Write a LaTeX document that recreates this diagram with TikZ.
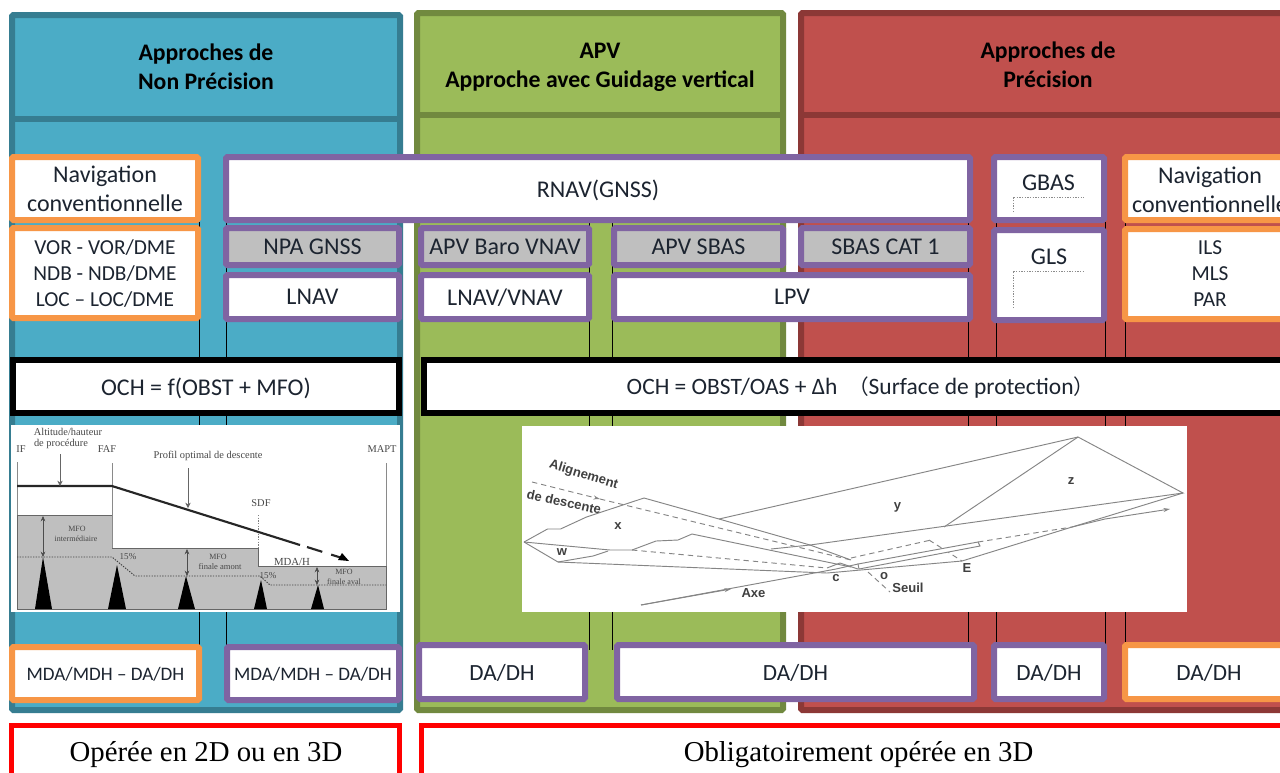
\documentclass[tikz,border=0pt]{standalone}
\usepackage{fontspec}
\setmainfont{Carlito}
\newfontfamily\serifx{Liberation Serif}
\newfontfamily\sansx{Liberation Sans}
\newfontfamily\cjkx{Noto Sans CJK SC}
\usetikzlibrary{arrows.meta}
\definecolor{bluef}{HTML}{4BACC6}\definecolor{blueb}{HTML}{367D91}
\definecolor{greenf}{HTML}{9BBB59}\definecolor{greenb}{HTML}{71893F}
\definecolor{redf}{HTML}{C0504D}\definecolor{redb}{HTML}{8C3836}
\definecolor{purp}{HTML}{8064A2}\definecolor{oran}{HTML}{F79646}
\definecolor{greyf}{HTML}{BFBFBF}\definecolor{ink}{HTML}{1C2430}
\definecolor{lne}{HTML}{8A8A8A}
\newcommand\fs[1]{\fontsize{#1}{#1}\selectfont}
\newcommand\boxn[7][]{%
 \pgfmathsetmacro\bw{(#5-#3-6)*0.75}%
 \pgfmathsetmacro\bh{(#6-#4-6)*0.75}%
 \node[basebox,#1,minimum width=\bw pt,minimum height=\bh pt] (#2) at ({(#3+#5)/2},{(#4+#6)/2}) {#7};}
\tikzset{
 x=0.75pt,y=-0.75pt,
 basebox/.style={draw,line width=4.5pt,rounded corners=1pt,inner sep=0pt,align=center,fill=white,text=ink,font=\fs{18},text depth=0pt},
 orangebox/.style={draw=oran},
 purplebox/.style={draw=purp},
 greybox/.style={draw=purp,fill=greyf},
 blackbox/.style={draw=black,rounded corners=0pt},
 txt/.style={inner sep=0pt,align=center,text=ink,font=\fs{18}},
 redline/.style={draw=red,line width=3.75pt,rounded corners=0pt,inner sep=0pt,fill=white,anchor=north west,minimum height=60pt},
 redtxt/.style={font=\serifx\fs{21.6},text=black,inner sep=0pt},
 head/.style={font=\bfseries\fs{17.8},text=black,align=center,inner sep=0pt},
 sepline/.style={line width=0.75pt,black},
 photo/.style={fill=white,draw=none},
 prof/.style={line width=1.6pt,black!85},
 vert/.style={line width=0.7pt,lne},
 dots/.style={line width=0.7pt,black!75,dash pattern=on 1pt off 1pt},
 tri/.style={fill=black,draw=none},
 mini/.style={font=\serifx\fs{7.8},text=black!72,inner sep=0pt,align=center},
 edge3/.style={line width=0.7pt,black!48},
 dash3/.style={line width=0.7pt,black!48,dash pattern=on 4pt off 3pt},
 lab3/.style={font=\sansx\bfseries\fs{9.8},text=black!75,inner sep=0pt},
 panel/.style={line width=4.5pt,rounded corners=1pt},
}
\begin{document}
\begin{tikzpicture}
\useasboundingbox (0,0) rectangle (1280,772);
\clip (0,0) rectangle (1280,772);
\fill[white] (0,0) rectangle (1280,772);
% panels
\draw[panel,draw=blueb,fill=bluef] (12,15) rectangle (400,710);
\draw[panel,draw=blueb] (12,118.5) -- (400,118.5);
\draw[panel,draw=greenb,fill=greenf] (417,13) rectangle (783,710);
\draw[panel,draw=greenb] (417,115) -- (783,115);
\draw[panel,draw=redb,fill=redf] (801,13) rectangle (1290,710);
\draw[panel,draw=redb] (801,115) -- (1290,115);
\node[head] (h1) at (206,66.5) {Approches de\\[3.9pt]Non Précision};
\node[head] (h2) at (600,67.5) {APV\\[3.9pt]Approche avec Guidage vertical};
\node[head] (h3) at (1048,64.5) {Approches de\\[3.9pt]Précision};
% thin separators
\foreach \xx in {199,226.5,589,612.5,968,996,1105,1125}{\draw[sepline] (\xx,222) -- (\xx,650);}
% boxes
\boxn[orangebox]{navl}{9}{154}{201}{223}{Navigation\\[3.75pt]conventionnelle}
\boxn[purplebox]{rnav}{223}{154}{973}{223}{RNAV(GNSS)}
\boxn[purplebox]{gbas}{991}{154}{1107}{223}{}
\node[txt] (gbast) at (1048.5,183) {GBAS};
\boxn[orangebox]{navr}{1122}{154}{1300}{223}{}
\node[txt] (navrt) at (1210,189.5) {Navigation\\[3.75pt]conventionnelle};
\boxn[orangebox,font=\fs{16}]{vor}{9}{225}{201}{321}{VOR - VOR/DME\\[3.5pt]NDB - NDB/DME\\[3.5pt]LOC -- LOC/DME}
\boxn[greybox]{npa}{223}{225}{402}{268}{NPA GNSS}
\boxn[purplebox]{lnav}{223}{272}{402}{322}{LNAV}
\boxn[greybox]{baro}{418}{225}{592}{268}{APV Baro VNAV}
\boxn[purplebox]{lnvn}{418}{272}{592}{322}{LNAV/VNAV}
\boxn[greybox]{sbas}{611}{225}{786}{268}{APV SBAS}
\boxn[greybox]{cat}{798}{225}{973}{268}{SBAS CAT 1}
\boxn[purplebox]{lpv}{611}{272}{973}{322}{LPV}
\boxn[purplebox]{gls}{991}{227}{1107}{323}{}
\node[txt] (glst) at (1049,257) {GLS};
\boxn[orangebox]{ils}{1122}{226}{1300}{322}{}
\node[txt,font=\fs{16}] (ilst) at (1210,273.5) {ILS\\[3.5pt]MLS\\[3.5pt]PAR};
\draw[dots,black!45] (1013,212) -- (1013,197) -- (1084,197);
\draw[dots,black!45] (1013,308) -- (1013,271) -- (1084,271);
\boxn[blackbox]{ochl}{10}{357}{402}{416}{OCH = f(OBST + MFO)}
\boxn[blackbox]{ochr}{421}{357}{1300}{416}{}
\node[txt,font=\fs{17.6}] (ochrt) at (860.5,388) {OCH = OBST/OAS + Δh \ {\cjkx\fs{15.5}（}Surface de protection{\cjkx\fs{15.5}）}};
\boxn[orangebox,font=\fs{14.3}]{mdal}{9}{644}{202}{703}{MDA/MDH -- DA/DH}
\boxn[purplebox,font=\fs{14.3}]{mdap}{224}{644}{402}{703}{MDA/MDH -- DA/DH}
\boxn[purplebox,font=\fs{17.4}]{da1}{416}{642}{588}{702}{DA/DH}
\boxn[purplebox,font=\fs{17.4}]{da2}{614}{642}{977}{702}{DA/DH}
\boxn[purplebox,font=\fs{17.4}]{da3}{991}{642}{1107}{702}{DA/DH}
\boxn[orangebox]{da4}{1122}{642}{1300}{702}{}
\node[txt,font=\fs{17.4}] (da4t) at (1209,673) {DA/DH};
\node[redline,minimum width=291pt] (r1) at (9,723) {};
\node[redline,minimum width=680pt] (r2) at (419,723) {};
\node[redtxt] (r1t) at (206,755) {Opérée en 2D ou en 3D};
\node[redtxt] (r2t) at (858.5,755) {Obligatoirement opérée en 3D};
% left picture
\fill[photo] (11,425) rectangle (400,612);
\fill[greyf,draw=black!60,line width=0.6pt] (17,515) -- (112,515) -- (112,548) -- (258,548) -- (258,566) -- (386,566) -- (386,609) -- (17,609) -- cycle;
\draw[vert] (17,462) -- (17,515);
\draw[vert] (112,463) -- (112,548);
\draw[vert] (386,463) -- (386,566);
\draw[dots,black!50] (258,515) -- (258,548);
\draw[prof] (17,486) -- (112,486) -- (300,545);
\draw[prof,dash pattern=on 12pt off 7pt] (307,547) -- (342,558);
\fill[black] (349,561) -- (338,560) -- (342,553) -- cycle;
\draw[dots] (17,557) -- (112,557) -- (135,576) -- (260,576) -- (270,585) -- (386,585);
\fill[tri] (35,609) -- (43,557) -- (52,609) -- cycle;
\fill[tri] (108,609) -- (117,565) -- (126,609) -- cycle;
\fill[tri] (178,609) -- (186,576) -- (195,609) -- cycle;
\fill[tri] (254,609) -- (261,580) -- (267,609) -- cycle;
\fill[tri] (311,609) -- (318,585) -- (324,609) -- cycle;
\draw[black!70,line width=0.5pt,{Stealth[length=4pt,width=3.5pt]}-{Stealth[length=4pt,width=3.5pt]}] (43,516) -- (43,557);
\draw[black!70,line width=0.5pt,{Stealth[length=4pt,width=3.5pt]}-{Stealth[length=4pt,width=3.5pt]}] (187,549) -- (187,576);
\draw[black!70,line width=0.5pt,{Stealth[length=4pt,width=3.5pt]}-{Stealth[length=4pt,width=3.5pt]}] (317,567) -- (317,585);
\draw[black!60,line width=0.5pt,-{Stealth[length=4pt,width=4pt]}] (60,454) -- (60,486);
\draw[black!60,line width=0.5pt,-{Stealth[length=4pt,width=4pt]}] (188,468) -- (188,508);
\node[mini] (t1) at (68,432) {Altitude/hauteur};
\node[mini] (t2) at (61,444) {de procédure};
\node[mini] (t3) at (21,449) {IF};
\node[mini] (t4) at (107,449) {FAF};
\node[mini] (t5) at (208,456) {Profil optimal de descente};
\node[mini] (t6) at (261,503) {SDF};
\node[mini] (t7) at (382,449) {MAPT};
\node[mini,font=\serifx\fs{6}] (t8) at (77,529) {MFO};
\node[mini,font=\serifx\fs{6}] (t9) at (76,539) {intermédiaire};
\node[mini,font=\serifx\fs{6.8}] (t10) at (128,557) {15\%};
\node[mini,font=\serifx\fs{6}] (t11) at (218,557) {MFO};
\node[mini,font=\serifx\fs{6.4}] (t12) at (220,567) {finale amont};
\node[mini,font=\serifx\fs{8.1}] (t13) at (292,562) {MDA/H};
\node[mini,font=\serifx\fs{6.8}] (t14) at (268,576) {15\%};
\node[mini,font=\serifx\fs{6}] (t15) at (344,572) {MFO};
\node[mini,font=\serifx\fs{6}] (t16) at (344,582) {finale aval};
% right picture
\fill[photo] (522,426) rectangle (1187,612);
\draw[edge3] (524,542) -- (547.5,529) -- (560.5,529) -- (586.5,517) -- (644,498) -- (719,519) -- (810,545) -- (851,560);
\draw[edge3] (719,519) -- (1078,437) -- (1183,493) -- (810,545) -- (771,549);
\draw[edge3] (1078,437) -- (944,527);
\draw[edge3] (1183,493) -- (1105,517) -- (1072,527) -- (962,561) -- (827,573) -- (558,562) -- (524,542);
\draw[edge3] (524,542) -- (610,550) -- (632,550) -- (656,541) -- (678,540) -- (692,534) -- (851,567);
\draw[edge3] (558,562) -- (593,556) -- (608,551);
\draw[edge3] (641,605) -- (836,569) -- (858,564);
\draw[edge3] (1072,527) -- (1105,519);
\draw[edge3,-{Stealth[length=5pt,width=3pt]}] (1105,519) -- (1170,509);
\draw[edge3,-{Stealth[length=5pt,width=3pt]}] (641,605) -- (731,589);
\draw[dash3] (632,550) -- (827,568);
\draw[dash3,-{Stealth[length=5pt,width=3pt]}] (532,482) -- (600,499);
\draw[dash3] (600,499) -- (851,560);
\draw[dash3] (868,572) -- (890,592);
\draw[dash3] (851,558) -- (931,540) (978,542) -- (1072,527);
\draw[dash3] (929,540) -- (962,561);
\draw[edge3,fill=white] (858,564) -- (978,542) -- (980,546) -- (859,569) -- cycle;
\draw[edge3] (827,568) -- (840,563) -- (858,569);
\node[lab3,rotate=-17] (a1) at (583.5,475) {Alignement};
\node[lab3,rotate=-12] (a2) at (564,502) {de descente};
\node[lab3] (a3) at (618,526) {x};
\node[lab3] (a4) at (562,552) {w};
\node[lab3] (a5) at (897.5,507) {y};
\node[lab3] (a6) at (1071,481) {z};
\node[lab3] (a7) at (836,578) {c};
\node[lab3] (a8) at (884,576) {o};
\node[lab3] (a9) at (967,568) {E};
\node[lab3] (a10) at (908,588) {Seuil};
\node[lab3] (a11) at (753.5,593) {Axe};
\end{tikzpicture}
\end{document}
